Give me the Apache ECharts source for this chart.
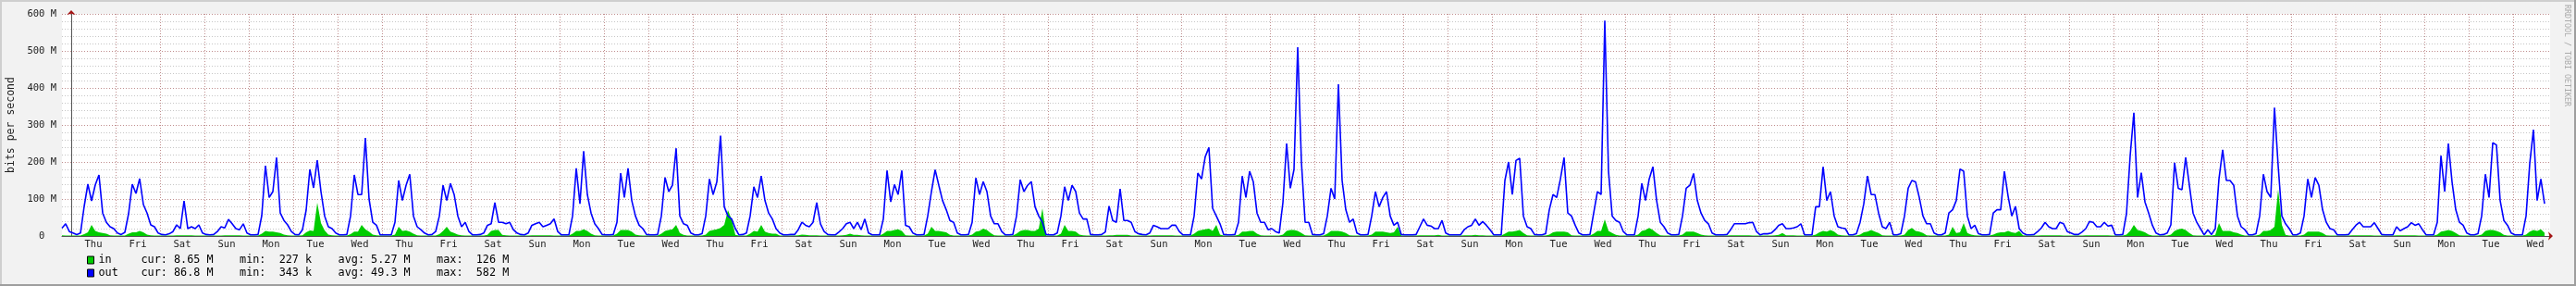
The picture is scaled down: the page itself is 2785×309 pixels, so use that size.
<!DOCTYPE html>
<html>
<head>
<meta charset="utf-8">
<title>bits per second</title>
<script src="https://cdn.jsdelivr.net/npm/echarts@6/dist/echarts.min.js"></script>
<style>
  html, body { margin: 0; padding: 0; background: #f2f2f2; }
  #chart { width: 2785px; height: 309px; }
</style>
</head>
<body>
<div id="chart"></div>
<script>
// first full day on the graph is a Thursday
const dayNames = ['Thu', 'Fri', 'Sat', 'Sun', 'Mon', 'Tue', 'Wed'];
const yTicks = [0, 100, 200, 300, 400, 500, 600];
const seriesNames = ['in', 'out'];
// cur, min, avg, max
const inStats = ['8.65 M', '227 k', '5.27 M', '126 M'];
const outStats = ['86.8 M', '343 k', '49.3 M', '582 M'];

// Mbit/s, one value every 2 hours, each week runs Thu 00:00 -> Wed 24:00
// lead = Wed 18:00 - 24:00 before the first week
const outLead = [21, 33, 12];
const outWeek1 = [
  8,4,8,80,140,95,138,165,62,37,25,20,
  8,4,10,60,140,115,155,85,62,30,25,8,
  4,3,6,12,30,20,95,20,25,20,30,8,
  4,3,4,12,25,22,45,33,20,17,33,8,
  3,3,4,55,190,104,120,212,62,42,30,12,
  4,3,17,70,180,130,205,120,54,25,20,8,
  3,3,4,54,165,112,112,265,100,37,29,3
];
const outWeek2 = [
  3,3,3,37,150,96,137,167,54,25,17,8,
  3,4,12,54,137,96,142,112,54,25,37,12,
  3,3,4,8,29,33,90,37,37,33,37,17,
  8,4,3,8,29,33,37,25,29,33,46,12,
  3,3,3,54,183,87,229,112,62,33,20,4,
  3,3,4,37,170,104,183,96,54,29,20,4,
  3,3,4,54,158,120,137,237,54,33,29,8
];
const outWeek3 = [
  3,3,6,54,154,112,146,271,79,54,46,20,
  3,4,8,54,133,104,162,96,62,46,20,8,
  3,3,4,4,17,37,29,25,37,90,33,12,
  4,3,3,11,20,33,37,20,37,17,46,8,
  3,3,3,46,177,92,139,112,177,29,25,8,
  3,3,4,54,120,179,137,96,71,42,37,8,
  3,3,4,37,157,112,147,120,54,33,33,12
];
const outWeek4 = [
  3,3,4,54,152,120,137,147,79,54,37,4,
  3,3,8,54,133,96,137,120,62,46,46,4,
  3,3,4,11,81,42,37,127,42,42,37,12,
  6,4,3,8,29,25,20,20,20,29,29,12,
  3,3,3,54,170,154,214,239,75,54,33,4,
  3,3,4,37,162,104,175,146,62,37,37,17,
  20,12,8,90,250,129,180,510,200,37,37,4
];
const outWeek5 = [
  3,3,6,54,129,100,410,150,71,37,46,8,
  3,3,4,54,120,79,104,120,54,29,37,4,
  3,3,3,4,25,46,29,27,20,20,42,8,
  3,3,3,3,17,25,29,46,29,39,29,17,
  3,3,3,150,200,112,204,210,54,25,20,4,
  3,3,6,71,112,104,154,212,62,54,29,8,
  3,3,4,62,120,112,582,175,54,42,37,12
];
const outWeek6 = [
  3,3,3,54,142,96,154,187,96,37,25,8,
  3,3,4,54,129,137,169,96,62,42,33,8,
  3,3,3,4,17,33,33,33,33,36,37,12,
  3,6,6,8,17,29,33,20,20,22,25,33,
  3,3,3,79,79,187,96,120,54,25,22,20,
  3,3,6,37,87,162,112,112,62,25,20,37,
  3,3,6,54,129,150,146,104,54,33,33,8
];
const outWeek7 = [
  3,3,8,62,71,96,181,175,54,20,29,6,
  3,3,4,62,71,71,175,108,54,80,20,8,
  3,3,4,12,22,37,25,20,20,37,33,12,
  8,4,4,11,20,39,37,25,25,37,27,29,
  3,3,4,60,217,333,104,171,92,62,29,8,
  3,4,8,30,198,129,125,212,137,62,37,20,
  3,17,4,20,154,233,150,150,137,54,25,17
];
const outWeek8 = [
  3,3,6,54,167,120,104,347,190,54,33,20,
  3,3,8,54,154,104,158,137,71,37,20,17,
  3,3,3,4,17,29,37,25,25,25,36,20,
  4,3,3,3,25,14,20,25,36,29,33,17,
  3,3,3,37,217,120,250,146,71,37,29,8,
  3,3,6,54,167,104,252,246,96,42,29,8,
  3,3,3,54,196,287,96,154,87
];

const inLead = [2, 1, 1];
const inWeek1 = [
  1,1,1,5,10,30,14,10,8,6,2,1,
  1,1,1,6,10,10,14,10,4,2,1,1,
  1,1,1,1,2,2,2,2,2,1,1,1,
  1,1,1,1,1,2,2,2,2,2,1,1,
  1,1,1,6,14,12,12,10,8,4,2,1,
  1,1,2,10,15,14,90,35,15,4,2,1,
  1,1,1,5,12,12,30,18,12,4,2,1
];
const inWeek2 = [
  1,1,1,4,25,14,15,12,6,2,1,1,
  1,1,1,5,14,25,12,8,4,2,1,1,
  1,1,1,1,3,14,16,16,3,2,1,1,
  1,1,1,1,2,2,2,2,2,2,1,1,
  1,1,1,6,14,14,18,14,6,2,1,1,
  1,1,1,6,16,16,16,12,4,2,1,1,
  1,1,1,6,14,16,18,30,8,3,1,1
];
const inWeek3 = [
  1,1,1,4,14,16,18,22,30,70,45,3,
  1,1,1,6,14,12,30,12,8,6,6,1,
  1,1,1,1,2,4,3,2,2,2,1,1,
  1,1,1,1,2,3,6,3,3,2,1,1,
  1,1,1,6,14,14,16,18,14,2,1,1,
  1,1,1,6,25,14,14,12,10,3,1,1,
  1,1,1,4,12,14,20,16,8,2,1,1
];
const inWeek4 = [
  1,1,1,6,14,16,16,14,14,20,75,1,
  1,1,1,6,30,14,14,12,4,2,1,1,
  1,1,1,1,2,2,3,3,3,3,1,1,
  1,1,1,1,2,2,2,2,2,2,1,1,
  1,1,1,6,14,16,18,20,14,30,4,1,
  1,1,1,3,12,12,14,14,6,2,1,1,
  1,1,1,4,14,16,16,14,8,2,1,1
];
const inWeek5 = [
  1,1,1,6,14,14,14,12,8,2,1,1,
  1,1,1,4,12,12,12,10,8,10,25,1,
  1,1,1,1,2,2,2,2,2,3,1,1,
  1,1,1,1,2,2,2,3,2,2,1,1,
  1,1,1,6,12,12,14,16,8,2,1,1,
  1,1,1,4,10,12,12,12,10,2,1,1,
  1,1,1,6,14,14,45,14,8,3,1,1
];
const inWeek6 = [
  1,1,1,4,14,16,22,16,8,2,1,1,
  1,1,1,4,12,12,12,8,4,2,1,1,
  1,1,1,1,2,2,2,2,2,2,1,1,
  1,1,1,1,2,3,8,2,2,2,1,1,
  1,1,1,4,10,14,12,16,12,4,2,1,
  1,1,1,4,10,12,16,12,8,2,1,1,
  1,1,1,4,16,22,14,12,8,2,1,1
];
const inWeek7 = [
  1,1,1,4,25,8,10,35,8,4,2,1,
  1,1,1,4,8,10,10,14,10,8,14,2,
  1,1,1,1,2,2,2,2,2,2,1,1,
  1,1,1,1,2,2,2,2,2,2,2,1,
  1,1,1,4,14,30,16,14,10,4,1,1,
  1,1,1,4,14,18,20,16,8,2,1,1,
  1,2,1,3,35,14,14,14,10,8,4,1
];
const inWeek8 = [
  1,1,1,4,14,14,16,25,126,30,3,1,
  1,1,1,4,12,12,12,12,8,2,1,1,
  1,1,1,1,2,2,2,2,2,2,1,1,
  1,1,1,1,2,2,2,2,2,2,1,1,
  1,1,1,4,12,14,16,14,8,2,1,1,
  1,1,1,4,14,16,16,14,10,3,1,1,
  1,1,1,4,12,16,14,18,9
];

const outWeeks = [outWeek1, outWeek2, outWeek3, outWeek4, outWeek5, outWeek6, outWeek7, outWeek8];
const inWeeks = [inWeek1, inWeek2, inWeek3, inWeek4, inWeek5, inWeek6, inWeek7, inWeek8];

// x = hours since the first Thursday 00:00, each value sits in the middle of its 2h slot
function points(lead, weeks) {
  const pts = lead.map((v, i) => [2 * i - 5, v]);
  weeks.forEach((week, w) => {
    week.forEach((v, j) => pts.push([w * 168 + 2 * j + 1, v]));
  });
  return pts;
}

const midnights = [];
const noons = [];
for (let k = 0; k < 56; k++) {
  midnights.push(k * 24);
  noons.push(k * 24 + 12);
}

const mono = 'DejaVu Sans Mono';
const gridMajor = '#c08e8e';
const gridMinor = '#c6c6c6';
const axisColor = '#555555';
const arrowColor = '#a31515';

function legendText(name) {
  const st = name === 'in' ? inStats : outStats;
  const p = st.map(s => s.padStart(6));
  return '{n|' + name + '}{s|cur: ' + p[0] + '    min: ' + p[1] + '    avg: ' + p[2] + '    max: ' + p[3] + '}';
}

const chart = echarts.init(document.getElementById('chart'), null, { renderer: 'canvas' });

chart.setOption({
  animation: false,
  backgroundColor: '#f2f2f2',
  grid: {
    left: 67, right: 28, top: 15, bottom: 54,
    show: true, backgroundColor: '#ffffff', borderWidth: 0,
    containLabel: false, outerBoundsMode: 'none'
  },
  legend: {
    data: seriesNames,
    orient: 'vertical',
    left: 94, top: 274,
    padding: 0, itemGap: 0,
    icon: 'rect', itemWidth: 7, itemHeight: 8,
    itemStyle: { borderColor: '#000', borderWidth: 1 },
    selectedMode: false,
    formatter: legendText,
    textStyle: {
      fontFamily: mono, fontSize: 11.8, color: '#000', lineHeight: 14,
      rich: {
        n: { width: 46, fontFamily: mono, fontSize: 11.8, color: '#000', lineHeight: 14 },
        s: { fontFamily: mono, fontSize: 11.8, color: '#000', lineHeight: 14 }
      }
    }
  },
  xAxis: [{
    type: 'value', min: -5, max: 1340,
    axisLine: { show: true, lineStyle: { color: axisColor, width: 1 } },
    axisTick: { show: false, customValues: midnights },
    axisLabel: {
      customValues: noons,
      formatter: v => dayNames[Math.round((v - 12) / 24) % 7],
      fontFamily: mono, fontSize: 10.5, color: '#222', margin: 4
    },
    splitLine: { show: true, lineStyle: { color: gridMajor, type: [1, 2], width: 1 } }
  }, {
    // only carries the red arrow at the end of the time axis
    type: 'value', min: -5, max: 1340, position: 'bottom',
    axisLine: { show: true, symbol: ['none', 'arrow'], symbolSize: [7, 5], symbolOffset: [0, 3],
      lineStyle: { color: arrowColor, width: 0 } },
    axisTick: { show: false }, axisLabel: { show: false }, splitLine: { show: false }
  }],
  yAxis: [{
    type: 'value', min: yTicks[0], max: yTicks[yTicks.length - 1], interval: 100,
    name: 'bits per second', nameLocation: 'middle', nameRotate: 90, nameGap: 49,
    nameTextStyle: { fontFamily: mono, fontSize: 11.5, color: '#222' },
    axisLine: { show: true, lineStyle: { color: axisColor, width: 1 } },
    axisTick: { show: false },
    axisLabel: {
      formatter: v => v === 0 ? '0  ' : v + ' M',
      fontFamily: mono, fontSize: 10.5, color: '#222', margin: 6
    },
    splitLine: { show: true, lineStyle: { color: gridMajor, type: [1, 2], width: 1 } },
    minorTick: { show: false, splitNumber: 5 },
    minorSplitLine: { show: true, lineStyle: { color: gridMinor, type: [1, 2], width: 1 } }
  }, {
    type: 'value', min: yTicks[0], max: yTicks[yTicks.length - 1], position: 'left',
    axisLine: { show: true, symbol: ['none', 'arrow'], symbolSize: [7, 5], symbolOffset: [0, 4],
      lineStyle: { color: arrowColor, width: 0 } },
    axisTick: { show: false }, axisLabel: { show: false }, splitLine: { show: false }
  }],
  series: [{
    name: 'in',
    type: 'line',
    data: points(inLead, inWeeks),
    showSymbol: false,
    color: '#00cc00',
    itemStyle: { color: '#00cc00' },
    lineStyle: { width: 0 },
    areaStyle: { color: '#00cc00', opacity: 1 },
    z: 2
  }, {
    name: 'out',
    type: 'line',
    data: points(outLead, outWeeks),
    showSymbol: false,
    color: '#0000ff',
    itemStyle: { color: '#0000ff' },
    lineStyle: { color: '#0000ff', width: 1.6 },
    z: 3
  }],
  graphic: [
    { type: 'rect', shape: { x: 0, y: 0, width: 2785, height: 2 }, style: { fill: '#cfcfcf' }, silent: true },
    { type: 'rect', shape: { x: 0, y: 0, width: 2, height: 309 }, style: { fill: '#cfcfcf' }, silent: true },
    { type: 'rect', shape: { x: 0, y: 307, width: 2785, height: 2 }, style: { fill: '#9e9e9e' }, silent: true },
    { type: 'rect', shape: { x: 2783, y: 0, width: 2, height: 309 }, style: { fill: '#9e9e9e' }, silent: true },
    {
      type: 'text', x: 2775, y: 5, rotation: -Math.PI / 2, silent: true,
      style: {
        text: 'RRDTOOL / TOBI OETIKER', font: '8.3px "DejaVu Sans Mono"',
        fill: '#aaaaaa', align: 'left', verticalAlign: 'middle'
      }
    }
  ]
});
</script>
</body>
</html>
